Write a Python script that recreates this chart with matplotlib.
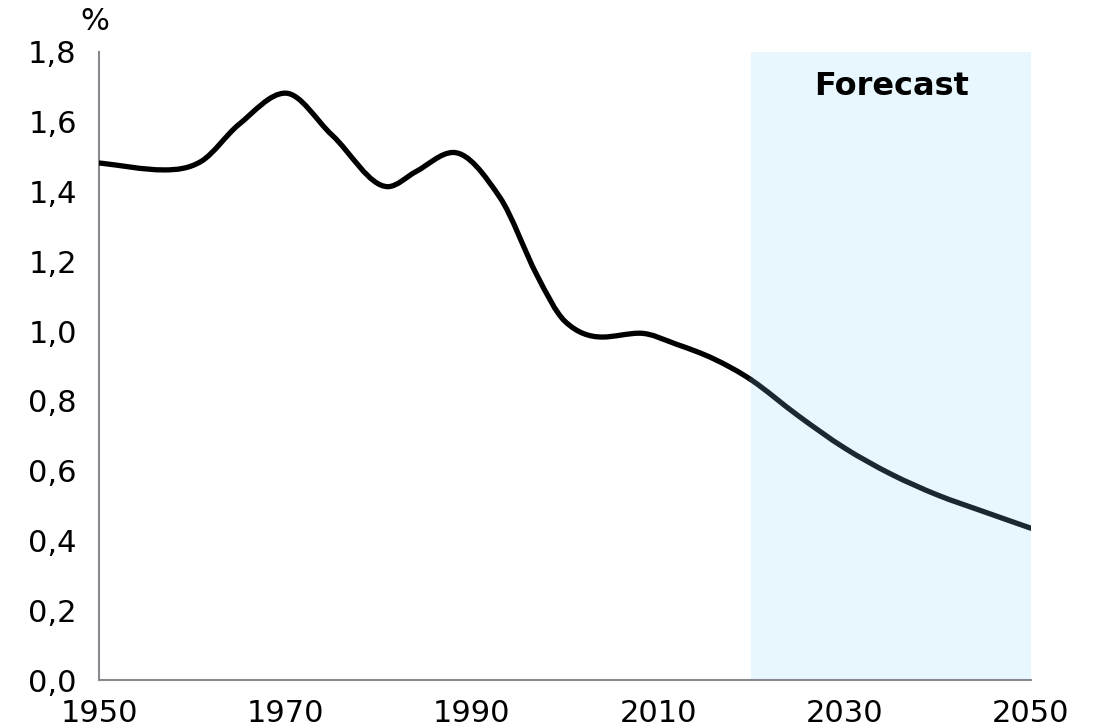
import numpy as np
import matplotlib
matplotlib.use("Agg")
import matplotlib.pyplot as plt
from matplotlib.path import Path
from matplotlib.patches import PathPatch

# population growth, % per year
years = [1950, 1957, 1961, 1965, 1970, 1975, 1981, 1984, 1988, 1993,
         1997, 2000, 2004, 2008, 2012, 2016, 2020, 2025, 2030, 2035, 2040,
         2045, 2050]
growth = [1.482, 1.462, 1.487, 1.592, 1.682, 1.562, 1.414, 1.457, 1.512,
          1.384, 1.16, 1.028, 0.983, 0.994, 0.962, 0.92, 0.86, 0.758, 0.665,
          0.59, 0.53, 0.482, 0.435]
forecast_start = 2020
forecast_end = 2050
x_ticks = [1950, 1970, 1990, 2010, 2030, 2050]
y_ticks = [0.0, 0.2, 0.4, 0.6, 0.8, 1.0, 1.2, 1.4, 1.6, 1.8]


def slopes(xs, ys):
    # central-difference tangents, flat at the turning points
    x = np.asarray(xs, float)
    y = np.asarray(ys, float)
    d = np.diff(y) / np.diff(x)
    m = np.zeros_like(y)
    for k in range(1, len(y) - 1):
        if d[k - 1] * d[k] > 0:
            c = (y[k + 1] - y[k - 1]) / (x[k + 1] - x[k - 1])
            lim = 3 * min(abs(d[k - 1]), abs(d[k]))
            m[k] = np.sign(c) * min(abs(c), lim)
    m[0] = d[0]
    m[-1] = d[-1]
    return m


def smooth_path(xs, ys, m):
    verts = [(xs[0], ys[0])]
    codes = [Path.MOVETO]
    for i in range(len(xs) - 1):
        h = xs[i + 1] - xs[i]
        verts += [(xs[i] + h / 3, ys[i] + m[i] * h / 3),
                  (xs[i + 1] - h / 3, ys[i + 1] - m[i + 1] * h / 3),
                  (xs[i + 1], ys[i + 1])]
        codes += [Path.CURVE4] * 3
    return Path(verts, codes)


plt.rcParams['font.family'] = ['DejaVu Sans']

fig = plt.figure(figsize=(10.97, 7.28), dpi=100)
ax = fig.add_axes([0.0902, 0.0659, 0.8496, 0.8627])

ax.axvspan(forecast_start, forecast_end, color='#e8f6fe', lw=0, zorder=0)

m = slopes(years, growth)
split = years.index(forecast_start)
hist_path = smooth_path(years[:split + 1], growth[:split + 1], m[:split + 1])
fut_path = smooth_path(years[split:], growth[split:], m[split:])

ax.add_patch(PathPatch(hist_path, fill=False, edgecolor='#000000', lw=3.8,
                       capstyle='butt', joinstyle='round', zorder=3))
ax.add_patch(PathPatch(fut_path, fill=False, edgecolor='#1c2831', lw=3.8,
                       capstyle='round', joinstyle='round', zorder=3))

ax.set_xlim(1950, 2050)
ax.set_ylim(0, 1.8)
ax.set_xticks(x_ticks)
ax.set_yticks(y_ticks)
ax.set_yticklabels([f"{v:.1f}".replace('.', ',') for v in y_ticks])
ax.tick_params(axis='both', length=0, labelsize=22, colors='#000000')
ax.tick_params(axis='y', pad=16)
ax.tick_params(axis='x', pad=14)

for s in ['top', 'right']:
    ax.spines[s].set_visible(False)
for s in ['left', 'bottom']:
    ax.spines[s].set_color('#868a8e')
    ax.spines[s].set_linewidth(1.5)

ax.text(2035, 1.70, 'Forecast', ha='center', va='center', fontsize=23,
        fontweight='bold')
fig.text(95 / 1097, 1 - 22 / 728, '%', ha='center', va='center', fontsize=22)

fig.savefig('out.png', dpi=100)
